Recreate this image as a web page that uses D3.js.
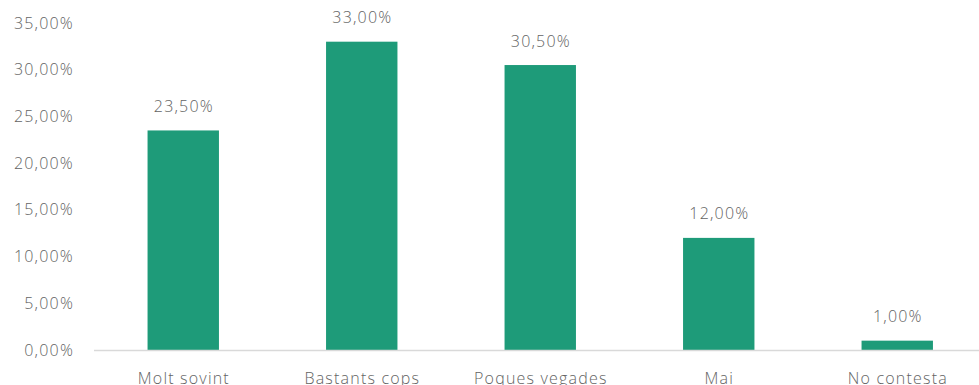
<!DOCTYPE html>
<html><head><meta charset="utf-8">
<script src="https://cdn.jsdelivr.net/npm/d3@7"></script>
<style>body{margin:0;background:#fff;}svg{display:block;}</style>
</head><body>
<svg id="c" width="979" height="385"></svg>
<script>
const categories = ["Molt sovint","Bastants cops","Poques vegades","Mai","No contesta"];
const values = [23.5, 33.0, 30.5, 12.0, 1.0];
const yTicks = [0,5,10,15,20,25,30,35];

const svg = d3.select("#c");
const fmt = v => d3.format(".2f")(v).replace(".", ",") + "%";
const x = d3.scaleBand().domain(categories).range([94, 986.5]).paddingInner(0.6).paddingOuter(0.3);
const y = d3.scaleLinear().domain([0,35]).range([350, 23]);
const font = "'Open Sans', 'Noto Sans', sans-serif";
const grey = "#636363";
const ls = 1.2;

function styleText(sel){
  return sel.attr("font-family", font).attr("font-size", 16).attr("font-weight", 300)
    .attr("letter-spacing", ls).attr("fill", grey);
}

// y tick labels
svg.append("g").selectAll("text").data(yTicks).join("text")
  .attr("x", 74).attr("y", d => y(d)).attr("dy", "0.35em")
  .attr("text-anchor", "end").call(styleText).text(fmt);

// bars
svg.append("g").selectAll("rect").data(values).join("rect")
  .attr("x", (d,i) => x(categories[i])).attr("width", x.bandwidth())
  .attr("y", d => y(d)).attr("height", d => y(0) - y(d))
  .attr("fill", "#1E9B79");

// axis line
svg.append("line").attr("x1", 94).attr("x2", 979).attr("y1", y(0)+0.5).attr("y2", y(0)+0.5)
  .attr("stroke", "#d9d9d9").attr("stroke-width", 1.5);

// value labels
svg.append("g").selectAll("text").data(values).join("text")
  .attr("x", (d,i) => x(categories[i]) + x.bandwidth()/2 + ls/2).attr("y", d => y(d) - 24).attr("dy", "0.35em")
  .attr("text-anchor", "middle").call(styleText).text(fmt);

// category labels
svg.append("g").selectAll("text").data(categories).join("text")
  .attr("x", d => x(d) + x.bandwidth()/2 + ls/2).attr("y", 384)
  .attr("text-anchor", "middle").call(styleText).text(d => d);
</script>
</body></html>
